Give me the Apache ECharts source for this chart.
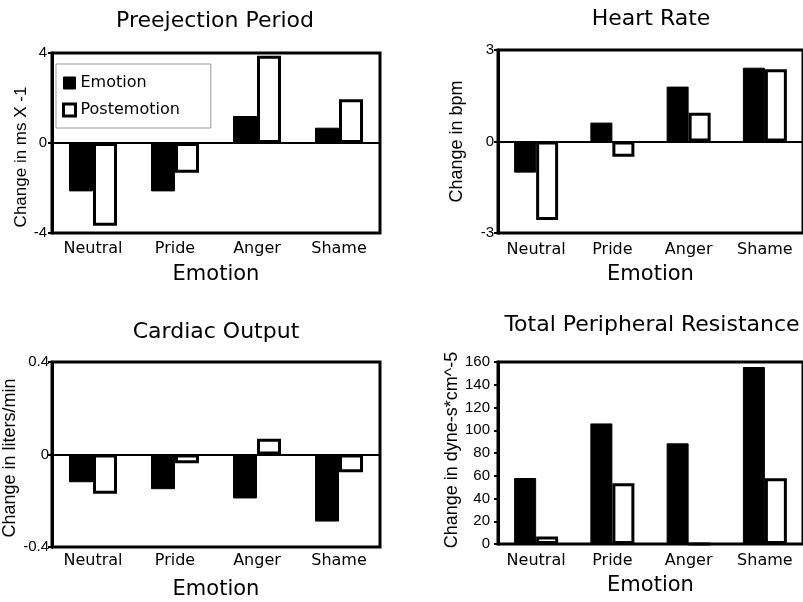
<!DOCTYPE html>
<html>
<head>
<meta charset="utf-8">
<script src="https://cdn.jsdelivr.net/npm/echarts@6/dist/echarts.min.js"></script>
<style>
html,body{margin:0;padding:0;background:#fff;}
#chart{width:803px;height:602px;}
</style>
</head>
<body>
<div id="chart"></div>
<script>
// ---- data ----
const categories = ['Neutral', 'Pride', 'Anger', 'Shame'];
const seriesNames = ['Emotion', 'Postemotion'];

const pepEmotion = [-2.15, -2.15, 1.2, 0.68];
const pepPost = [-3.68, -1.32, 3.88, 1.94];

const hrEmotion = [-1.02, 0.62, 1.8, 2.42];
const hrPost = [-2.57, -0.5, 0.94, 2.37];

const coEmotion = [-0.12, -0.15, -0.19, -0.29];
const coPost = [-0.17, -0.038, 0.068, -0.077];

const tprEmotion = [58, 106, 88.5, 155.6];
const tprPost = [6.5, 53.3, 0, 57.7];

const titles = ['Preejection Period', 'Heart Rate', 'Cardiac Output', 'Total Peripheral Resistance'];
const yNames = ['Change in ms X -1', 'Change in bpm', 'Change in liters/min', 'Change in dyne-s*cm^-5'];
const xName = 'Emotion';
const yRanges = [[-4, 4, 4], [-3, 3, 3], [-0.4, 0.4, 0.4], [0, 160, 20]];

// ---- layout (positions/styles only) ----
const panels = [
  {grid: {left: 52, top: 53, width: 328, height: 180}, barW: 24, titleX: 215, titleY: 10, yGap: 22, yPad: [0, 28, 0, 0], yFont: 17, lblMargin: 5, catMargin: 8, nameGap: 31.5, data: [pepEmotion, pepPost]},
  {grid: {left: 498, top: 50, width: 309, height: 183}, barW: 22, titleX: 651, titleY: 8, yGap: 31.5, yPad: 0, yFont: 18, lblMargin: 4, catMargin: 9, nameGap: 31.5, data: [hrEmotion, hrPost]},
  {grid: {left: 52, top: 362, width: 328, height: 185}, barW: 24, titleX: 216, titleY: 321, yGap: 23, yPad: [0, 7, 0, 0], yFont: 18, lblMargin: 3, catMargin: 6, nameGap: 32.5, data: [coEmotion, coPost]},
  {grid: {left: 498, top: 362, width: 309, height: 182}, barW: 22, titleX: 652, titleY: 314, yGap: 34.5, yPad: [0, 0, 0, 6], yFont: 18, lblMargin: 8, catMargin: 9, nameGap: 31.5, data: [tprEmotion, tprPost]}
];

const SANS = 'DejaVu Sans';
const ARIAL = 'Liberation Sans';

const option = {
  animation: false,
  backgroundColor: '#fff',
  title: [],
  grid: [],
  xAxis: [],
  yAxis: [],
  series: [],
  legend: {
    orient: 'vertical',
    left: 56,
    top: 64,
    padding: [11, 31, 10, 6],
    itemGap: 11,
    itemWidth: 12,
    itemHeight: 12,
    icon: 'rect',
    backgroundColor: '#fff',
    borderColor: '#999',
    borderWidth: 1,
    z: 10,
    textStyle: {fontFamily: SANS, fontSize: 16, color: '#000'},
    data: [
      {name: seriesNames[0], itemStyle: {color: '#000', borderColor: '#000', borderWidth: 1}},
      {name: seriesNames[1], itemStyle: {color: '#fff', borderColor: '#000', borderWidth: 3}}
    ]
  }
};

panels.forEach((p, i) => {
  option.title.push({
    text: titles[i], left: p.titleX, top: p.titleY, textAlign: 'center', padding: 0,
    textStyle: {fontFamily: SANS, fontSize: 22, fontWeight: 'normal', color: '#000'}
  });
  option.grid.push(Object.assign({show: true, borderColor: '#000', borderWidth: 3, backgroundColor: 'transparent', containLabel: false}, p.grid));
  option.xAxis.push({
    type: 'category', gridIndex: i, data: categories,
    name: xName, nameLocation: 'middle', nameGap: p.nameGap,
    nameTextStyle: {fontFamily: SANS, fontSize: 21, color: '#000'},
    axisLine: {show: true, onZero: true, lineStyle: {color: '#000', width: 2}},
    axisTick: {show: false},
    axisLabel: {fontFamily: SANS, fontSize: 16, color: '#000', margin: p.catMargin, interval: 0},
    splitLine: {show: false}
  });
  const r = yRanges[i];
  option.yAxis.push({
    type: 'value', gridIndex: i, min: r[0], max: r[1], interval: r[2],
    name: yNames[i], nameLocation: 'middle', nameGap: p.yGap,
    nameTextStyle: {fontFamily: ARIAL, fontSize: p.yFont, color: '#000', padding: p.yPad},
    axisLine: {show: true, lineStyle: {color: '#000', width: 3}},
    axisTick: {show: true, length: 4, lineStyle: {color: '#000', width: 2}},
    axisLabel: {fontFamily: ARIAL, fontSize: 15, color: '#000', margin: p.lblMargin,
      formatter: v => String(Math.round(v * 1000) / 1000)},
    splitLine: {show: false}
  });
  option.series.push({
    type: 'bar', name: seriesNames[0], xAxisIndex: i, yAxisIndex: i, data: p.data[0],
    barWidth: p.barW, barGap: '0%',
    itemStyle: {color: '#000', borderColor: '#000', borderWidth: 1},
    emphasis: {disabled: true}
  });
  option.series.push({
    type: 'bar', name: seriesNames[1], xAxisIndex: i, yAxisIndex: i, data: p.data[1],
    barWidth: p.barW, barGap: '0%',
    itemStyle: {color: '#fff', borderColor: '#000', borderWidth: 3},
    emphasis: {disabled: true}
  });
});

const chart = echarts.init(document.getElementById('chart'), null, {renderer: 'canvas'});
chart.setOption(option);
</script>
</body>
</html>
